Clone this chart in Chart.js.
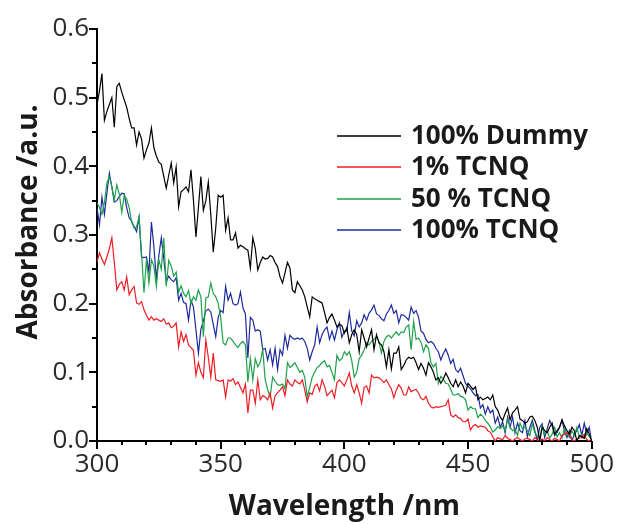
<!DOCTYPE html>
<html><head><meta charset="utf-8">
<script src="https://cdn.jsdelivr.net/npm/chart.js@4.4.1/dist/chart.umd.min.js"></script>
<style>html,body{margin:0;padding:0;background:#fff;}canvas{display:block}</style>
</head><body>
<canvas id="c" width="622" height="524"></canvas>
<script>
// ---- data ----
const wavelengths = Array.from({length: 201}, (_, i) => 300 + i);
const seriesNames = ['100% Dummy', '1% TCNQ', '50 % TCNQ', '100% TCNQ'];
const dummy100 = [
0.49,0.51,0.535,0.467,0.48,0.49,0.50,0.457,0.516,0.521,
0.508,0.497,0.486,0.47,0.456,0.456,0.431,0.45,0.44,0.412,
0.424,0.434,0.456,0.427,0.415,0.406,0.403,0.385,0.368,0.387,
0.405,0.376,0.399,0.341,0.363,0.366,0.37,0.363,0.395,0.35,
0.297,0.34,0.385,0.336,0.35,0.377,0.33,0.275,0.31,0.358,
0.355,0.358,0.307,0.325,0.293,0.293,0.303,0.281,0.285,0.283,
0.28,0.278,0.252,0.296,0.28,0.249,0.26,0.268,0.265,0.266,
0.27,0.268,0.26,0.254,0.239,0.23,0.245,0.26,0.252,0.22,
0.216,0.232,0.226,0.22,0.21,0.195,0.181,0.21,0.207,0.205,
0.203,0.201,0.187,0.172,0.18,0.185,0.176,0.166,0.17,0.168,
0.157,0.165,0.143,0.155,0.162,0.155,0.13,0.162,0.15,0.137,
0.15,0.162,0.133,0.155,0.143,0.14,0.13,0.108,0.133,0.105,
0.128,0.128,0.137,0.104,0.11,0.118,0.122,0.12,0.122,0.114,
0.104,0.113,0.106,0.096,0.114,0.108,0.1,0.089,0.092,0.084,
0.09,0.099,0.092,0.084,0.079,0.089,0.079,0.086,0.08,0.07,
0.084,0.08,0.075,0.079,0.06,0.064,0.06,0.062,0.064,0.06,
0.067,0.05,0.045,0.035,0.03,0.04,0.048,0.031,0.041,0.045,
0.05,0.032,0.03,0.026,0.028,0.035,0.036,0.03,0.02,0.0,
0.02,0.015,0.012,0.02,0.026,0.01,0.015,0.02,0.031,0.022,
0.015,0.01,0.02,0.015,0.0,0.008,0.006,0.004,0.018,0.01,0.0];
const tcnq1 = [
0.261,0.274,0.265,0.257,0.268,0.28,0.296,0.26,0.22,0.228,
0.232,0.22,0.239,0.213,0.22,0.225,0.201,0.199,0.203,0.191,
0.183,0.176,0.181,0.176,0.178,0.176,0.174,0.178,0.17,0.172,
0.165,0.167,0.172,0.137,0.159,0.145,0.155,0.14,0.136,0.132,
0.096,0.114,0.1,0.092,0.147,0.122,0.093,0.128,0.089,0.088,
0.087,0.089,0.064,0.089,0.087,0.091,0.082,0.086,0.078,0.07,
0.083,0.041,0.074,0.074,0.055,0.089,0.06,0.066,0.064,0.06,
0.07,0.048,0.066,0.07,0.074,0.079,0.066,0.089,0.083,0.08,
0.089,0.085,0.083,0.089,0.074,0.057,0.07,0.068,0.08,0.083,
0.073,0.089,0.08,0.066,0.07,0.074,0.063,0.085,0.089,0.085,
0.08,0.089,0.099,0.08,0.07,0.082,0.07,0.055,0.078,0.08,
0.07,0.096,0.092,0.093,0.092,0.089,0.085,0.089,0.082,0.076,
0.063,0.074,0.082,0.077,0.067,0.067,0.079,0.072,0.074,0.075,
0.07,0.062,0.06,0.065,0.055,0.05,0.048,0.05,0.049,0.05,
0.051,0.052,0.06,0.038,0.035,0.038,0.034,0.033,0.028,0.028,
0.032,0.016,0.022,0.024,0.02,0.022,0.021,0.02,0.015,0.013,
0.006,0.0,0.005,0.003,0.002,0.008,0.004,0.002,0.0,0.003,
0.005,0.002,0.0,0.003,0.004,0.002,0.0,0.005,0.002,0.0,
0.003,0.0,0.005,0.002,0.0,0.004,0.002,0.0,0.008,0.01,
0.012,0.008,0.002,0.0,0.003,0.004,0.005,0.01,0.002,0.0,0.003];
const tcnq50 = [
0.347,0.34,0.33,0.347,0.376,0.385,0.37,0.351,0.373,0.36,
0.333,0.358,0.352,0.34,0.319,0.31,0.312,0.326,0.274,0.216,
0.264,0.23,0.264,0.255,0.225,0.264,0.25,0.296,0.225,0.263,
0.255,0.24,0.246,0.217,0.226,0.215,0.21,0.219,0.2,0.21,
0.205,0.22,0.21,0.152,0.208,0.21,0.23,0.215,0.21,0.2,
0.18,0.143,0.14,0.15,0.15,0.145,0.14,0.136,0.142,0.145,
0.14,0.086,0.12,0.089,0.12,0.108,0.115,0.133,0.089,0.075,
0.064,0.093,0.087,0.082,0.081,0.083,0.076,0.114,0.107,0.11,
0.114,0.107,0.1,0.103,0.093,0.064,0.078,0.093,0.1,0.107,
0.11,0.114,0.117,0.108,0.11,0.1,0.089,0.125,0.117,0.12,
0.13,0.125,0.13,0.117,0.093,0.1,0.12,0.125,0.133,0.143,
0.14,0.145,0.148,0.152,0.145,0.128,0.145,0.152,0.154,0.15,
0.155,0.159,0.154,0.159,0.158,0.166,0.169,0.133,0.174,0.148,
0.15,0.144,0.13,0.14,0.135,0.114,0.108,0.113,0.084,0.094,
0.09,0.084,0.083,0.075,0.067,0.067,0.069,0.065,0.064,0.06,
0.045,0.05,0.047,0.047,0.034,0.039,0.036,0.03,0.026,0.021,
0.013,0.016,0.021,0.018,0.022,0.015,0.031,0.02,0.015,0.017,
0.008,0.026,0.018,0.02,0.015,0.008,0.025,0.012,0.008,0.005,
0.022,0.01,0.015,0.004,0.01,0.02,0.006,0.012,0.004,0.018,
0.01,0.005,0.015,0.008,0.02,0.006,0.01,0.004,0.012,0.006,0.003];
const tcnq100 = [
0.34,0.315,0.355,0.33,0.361,0.39,0.37,0.348,0.35,0.356,
0.361,0.36,0.34,0.325,0.32,0.312,0.305,0.326,0.268,0.267,
0.268,0.246,0.319,0.283,0.235,0.27,0.296,0.265,0.232,0.24,
0.235,0.232,0.238,0.205,0.215,0.202,0.2,0.176,0.205,0.195,
0.162,0.128,0.163,0.175,0.19,0.192,0.188,0.17,0.152,0.18,
0.19,0.187,0.225,0.205,0.215,0.2,0.198,0.2,0.217,0.194,
0.185,0.121,0.18,0.176,0.16,0.162,0.16,0.133,0.135,0.118,
0.133,0.111,0.135,0.104,0.133,0.125,0.154,0.135,0.154,0.15,
0.148,0.15,0.148,0.15,0.145,0.135,0.118,0.13,0.14,0.166,
0.143,0.155,0.162,0.166,0.148,0.16,0.147,0.162,0.172,0.151,
0.16,0.16,0.187,0.16,0.153,0.175,0.166,0.172,0.184,0.176,
0.186,0.191,0.198,0.185,0.183,0.178,0.175,0.185,0.19,0.198,
0.186,0.19,0.172,0.184,0.183,0.18,0.176,0.195,0.186,0.19,
0.18,0.16,0.157,0.148,0.143,0.145,0.142,0.135,0.13,0.118,
0.127,0.134,0.125,0.113,0.119,0.104,0.1,0.106,0.095,0.084,
0.08,0.076,0.07,0.066,0.068,0.048,0.053,0.039,0.05,0.041,
0.045,0.026,0.035,0.02,0.028,0.012,0.035,0.02,0.035,0.012,
0.026,0.015,0.012,0.03,0.006,0.02,0.03,0.015,0.0,0.02,
0.025,0.005,0.018,0.03,0.022,0.008,0.012,0.02,0.03,0.014,
0.005,0.015,0.0,0.01,0.015,0.024,0.008,0.026,0.01,0.02,0.0];
const xTickLabels = [300, 350, 400, 450, 500];
const yTickLabels = [0.0, 0.1, 0.2, 0.3, 0.4, 0.5, 0.6];
const xMinorTicks = [300,310,320,330,340,350,360,370,380,390,400,410,420,430,440,450,460,470,480,490,500];
const yMinorTicks = [0,0.05,0.1,0.15,0.2,0.25,0.3,0.35,0.4,0.45,0.5,0.55,0.6];
const xTitle = 'Wavelength /nm';
const yTitle = 'Absorbance /a.u.';

// ---- styling ----
const colors = ['#000000', '#f01c24', '#1ea04a', '#1c2a9c'];
const allSeries = [dummy100, tcnq1, tcnq50, tcnq100];

const decor = {
  id: 'decor',
  afterDraw(chart) {
    const ctx = chart.ctx, xs = chart.scales.x, ys = chart.scales.y;
    const ca = chart.chartArea;
    ctx.save();
    ctx.strokeStyle = '#000';
    ctx.lineWidth = 2;
    ctx.beginPath();
    xMinorTicks.forEach(v => {
      const px = Math.round(xs.getPixelForValue(v));
      const major = xTickLabels.includes(v);
      ctx.moveTo(px, ca.bottom); ctx.lineTo(px, ca.bottom + (major ? 8 : 4));
    });
    yMinorTicks.forEach(v => {
      const py = Math.round(ys.getPixelForValue(v));
      const major = yTickLabels.some(t => Math.abs(t - v) < 1e-9);
      ctx.moveTo(ca.left, py); ctx.lineTo(ca.left - (major ? 8 : 5), py);
    });
    ctx.stroke();

    // axis titles
    ctx.fillStyle = '#1a1a1a';
    ctx.font = 'bold 28px "Open Sans"';
    ctx.textAlign = 'center';
    ctx.textBaseline = 'middle';
    ctx.fillText(xTitle, (ca.left + ca.right) / 2, 507);
    ctx.save();
    ctx.translate(29, 222);
    ctx.rotate(-Math.PI / 2);
    ctx.fillText(yTitle, 0, 0);
    ctx.restore();

    // legend
    ctx.font = 'bold 26px "Open Sans"';
    ctx.textAlign = 'left';
    seriesNames.forEach((name, i) => {
      const y = Math.round(136 + i * 31.3);
      ctx.strokeStyle = colors[i];
      ctx.lineWidth = 1.6;
      ctx.beginPath();
      ctx.moveTo(337, y);
      ctx.lineTo(401, y);
      ctx.stroke();
      ctx.fillStyle = '#1a1a1a';
      ctx.fillText(name, 411, y + 1);
    });
    ctx.restore();
  }
};

new Chart(document.getElementById('c'), {
  type: 'line',
  data: {
    datasets: seriesNames.map((name, i) => ({
      label: name,
      data: wavelengths.map((w, j) => ({x: w, y: allSeries[i][j]})),
      borderColor: colors[i],
      borderWidth: 1.2,
      pointRadius: 0,
      fill: false,
      tension: 0
    }))
  },
  options: {
    responsive: false,
    animation: false,
    devicePixelRatio: 1,
    layout: {padding: {top: 29, right: 29, left: 0, bottom: 0}},
    plugins: {legend: {display: false}, tooltip: {enabled: false}},
    scales: {
      x: {
        type: 'linear', min: 300, max: 500,
        afterBuildTicks: s => { s.ticks = xTickLabels.map(v => ({value: v})); },
        afterFit: s => { s.height = 83; },
        grid: {display: false, drawTicks: false},
        border: {display: true, color: '#000', width: 2},
        ticks: {font: {family: 'Open Sans', size: 26}, color: '#2a2a2a', padding: 8, maxRotation: 0,
                callback: v => String(v)}
      },
      y: {
        type: 'linear', min: 0, max: 0.6,
        afterBuildTicks: s => { s.ticks = yTickLabels.map(v => ({value: v})); },
        afterFit: s => { s.width = 97; },
        grid: {display: false, drawTicks: false},
        border: {display: true, color: '#000', width: 2},
        ticks: {font: {family: 'Open Sans', size: 26}, color: '#2a2a2a', padding: 8,
                callback: v => Number(v).toFixed(1)}
      }
    }
  },
  plugins: [decor]
});
</script>
</body></html>
